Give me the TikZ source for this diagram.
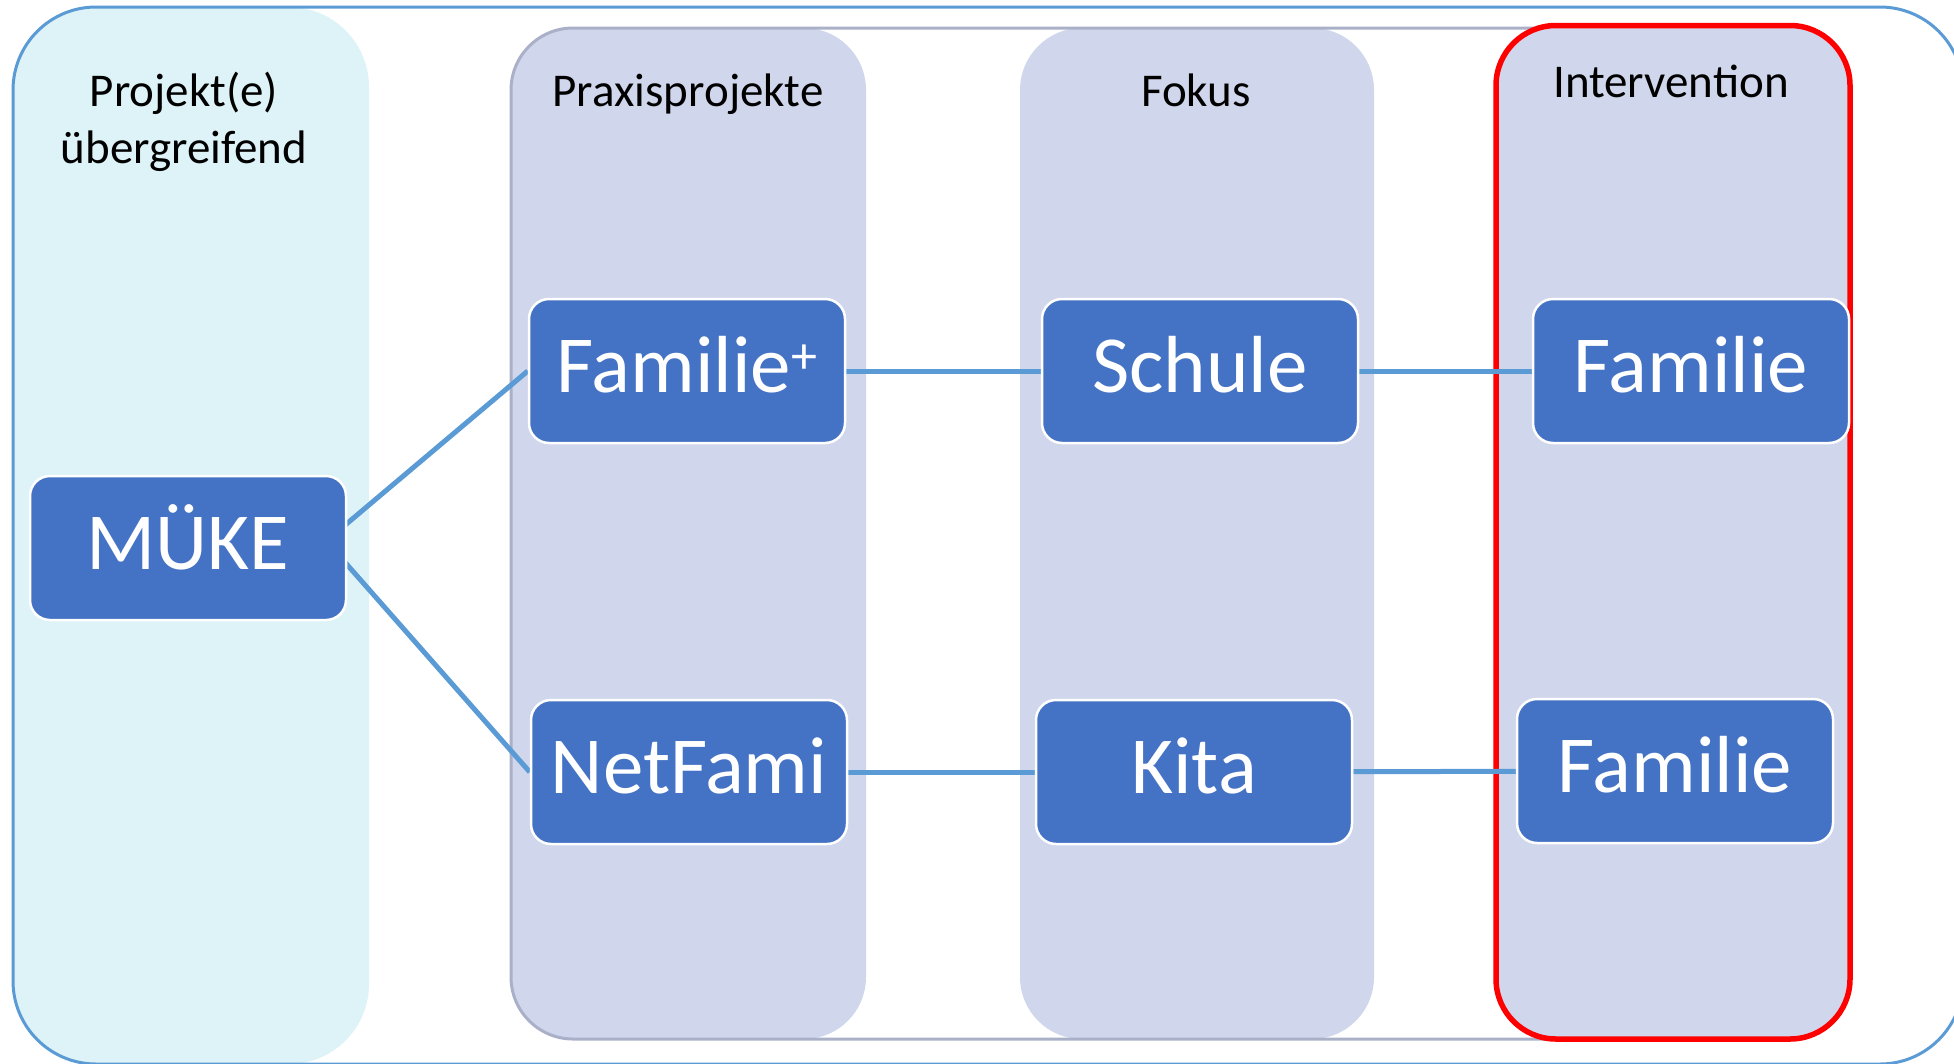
\documentclass[tikz,border=0pt]{standalone}
\usepackage{fontspec}
\setmainfont{Carlito}
\usetikzlibrary{calc}
\usetikzlibrary{positioning}

\definecolor{boxblue}{HTML}{4472C4}
\definecolor{linkblue}{HTML}{5B9BD5}
\definecolor{lavender}{HTML}{D0D6EB}
\definecolor{groupgrey}{HTML}{A9B0C8}
\definecolor{paleblue}{HTML}{DDF3F7}

\pgfdeclarelayer{back}
\pgfdeclarelayer{links}
\pgfsetlayers{back,links,main}

\begin{document}
\begin{tikzpicture}[
		x=1pt,y=-1pt,
		column/.style={fill=lavender,rounded corners=62pt},
		head/.style={anchor=base,align=center,font=\fontsize{47}{57}\selectfont},
		item/.style={draw=white,line width=2.5pt,fill=boxblue,text=white,rounded corners=20pt,
			minimum width=316pt,minimum height=144pt,inner sep=0pt,
			text height=50pt,text depth=8pt,font=\fontsize{81}{90}\selectfont},
		link/.style={draw=linkblue,line width=5pt}
	]
	\useasboundingbox (0,0) rectangle (1954,1063);

	\begin{pgfonlayer}{back}
		% columns
		\fill [paleblue,rounded corners=80pt] (13,7) rectangle (369,1064);
		\draw [linkblue,line width=3pt,rounded corners=83pt] (13,7) rectangle (1963,1064);
		\fill [column] (511,28) rectangle (866,1039);
		\fill [column] (1020,28) rectangle (1374,1039);
		\draw [groupgrey,line width=3pt,rounded corners=62pt] (511,28) rectangle (1850,1039);
		\draw [column,draw=red,line width=5.5pt,rounded corners=60pt] (1496,25.5) rectangle (1850,1039);
	\end{pgfonlayer}

	\node [head] (projhead) at (184,163) {Projekt(e)\\übergreifend};
	\node [head] (praxhead) at (688,106) {Praxisprojekte};
	\node [head] (fokushead) at (1196,106) {Fokus};
	\node [head] (intvhead) at (1671,97) {Intervention};

	\node [item] (mueke) at (188,548) {MÜKE};
	\node [item] (famplus) at (687,371) {Familie\raisebox{19pt}{\fontsize{52}{52}\selectfont +}};
	\node [item] (netfami) at (689,772) {NetFami};
	\node [item] (schule) at (1200,371) {Schule};
	\node [item] (kita) at (1194,772) {Kita};
	\node [item] (famtop) at (1691,371) {Familie};
	\node [item] (fambot) at (1675,771) {Familie};

	\begin{pgfonlayer}{links}
		\draw [link] ($(mueke.east)+(-21,-7)$) -- (famplus.west);
		\draw [link] ($(mueke.east)+(-21,-7)$) -- (netfami.west);
		\draw [link] (famplus) -- (schule);
		\draw [link] (schule) -- (famtop);
		\draw [link] (netfami) -- (kita);
		\draw [link] (kita) -- (fambot);
	\end{pgfonlayer}

\end{tikzpicture}
\end{document}
